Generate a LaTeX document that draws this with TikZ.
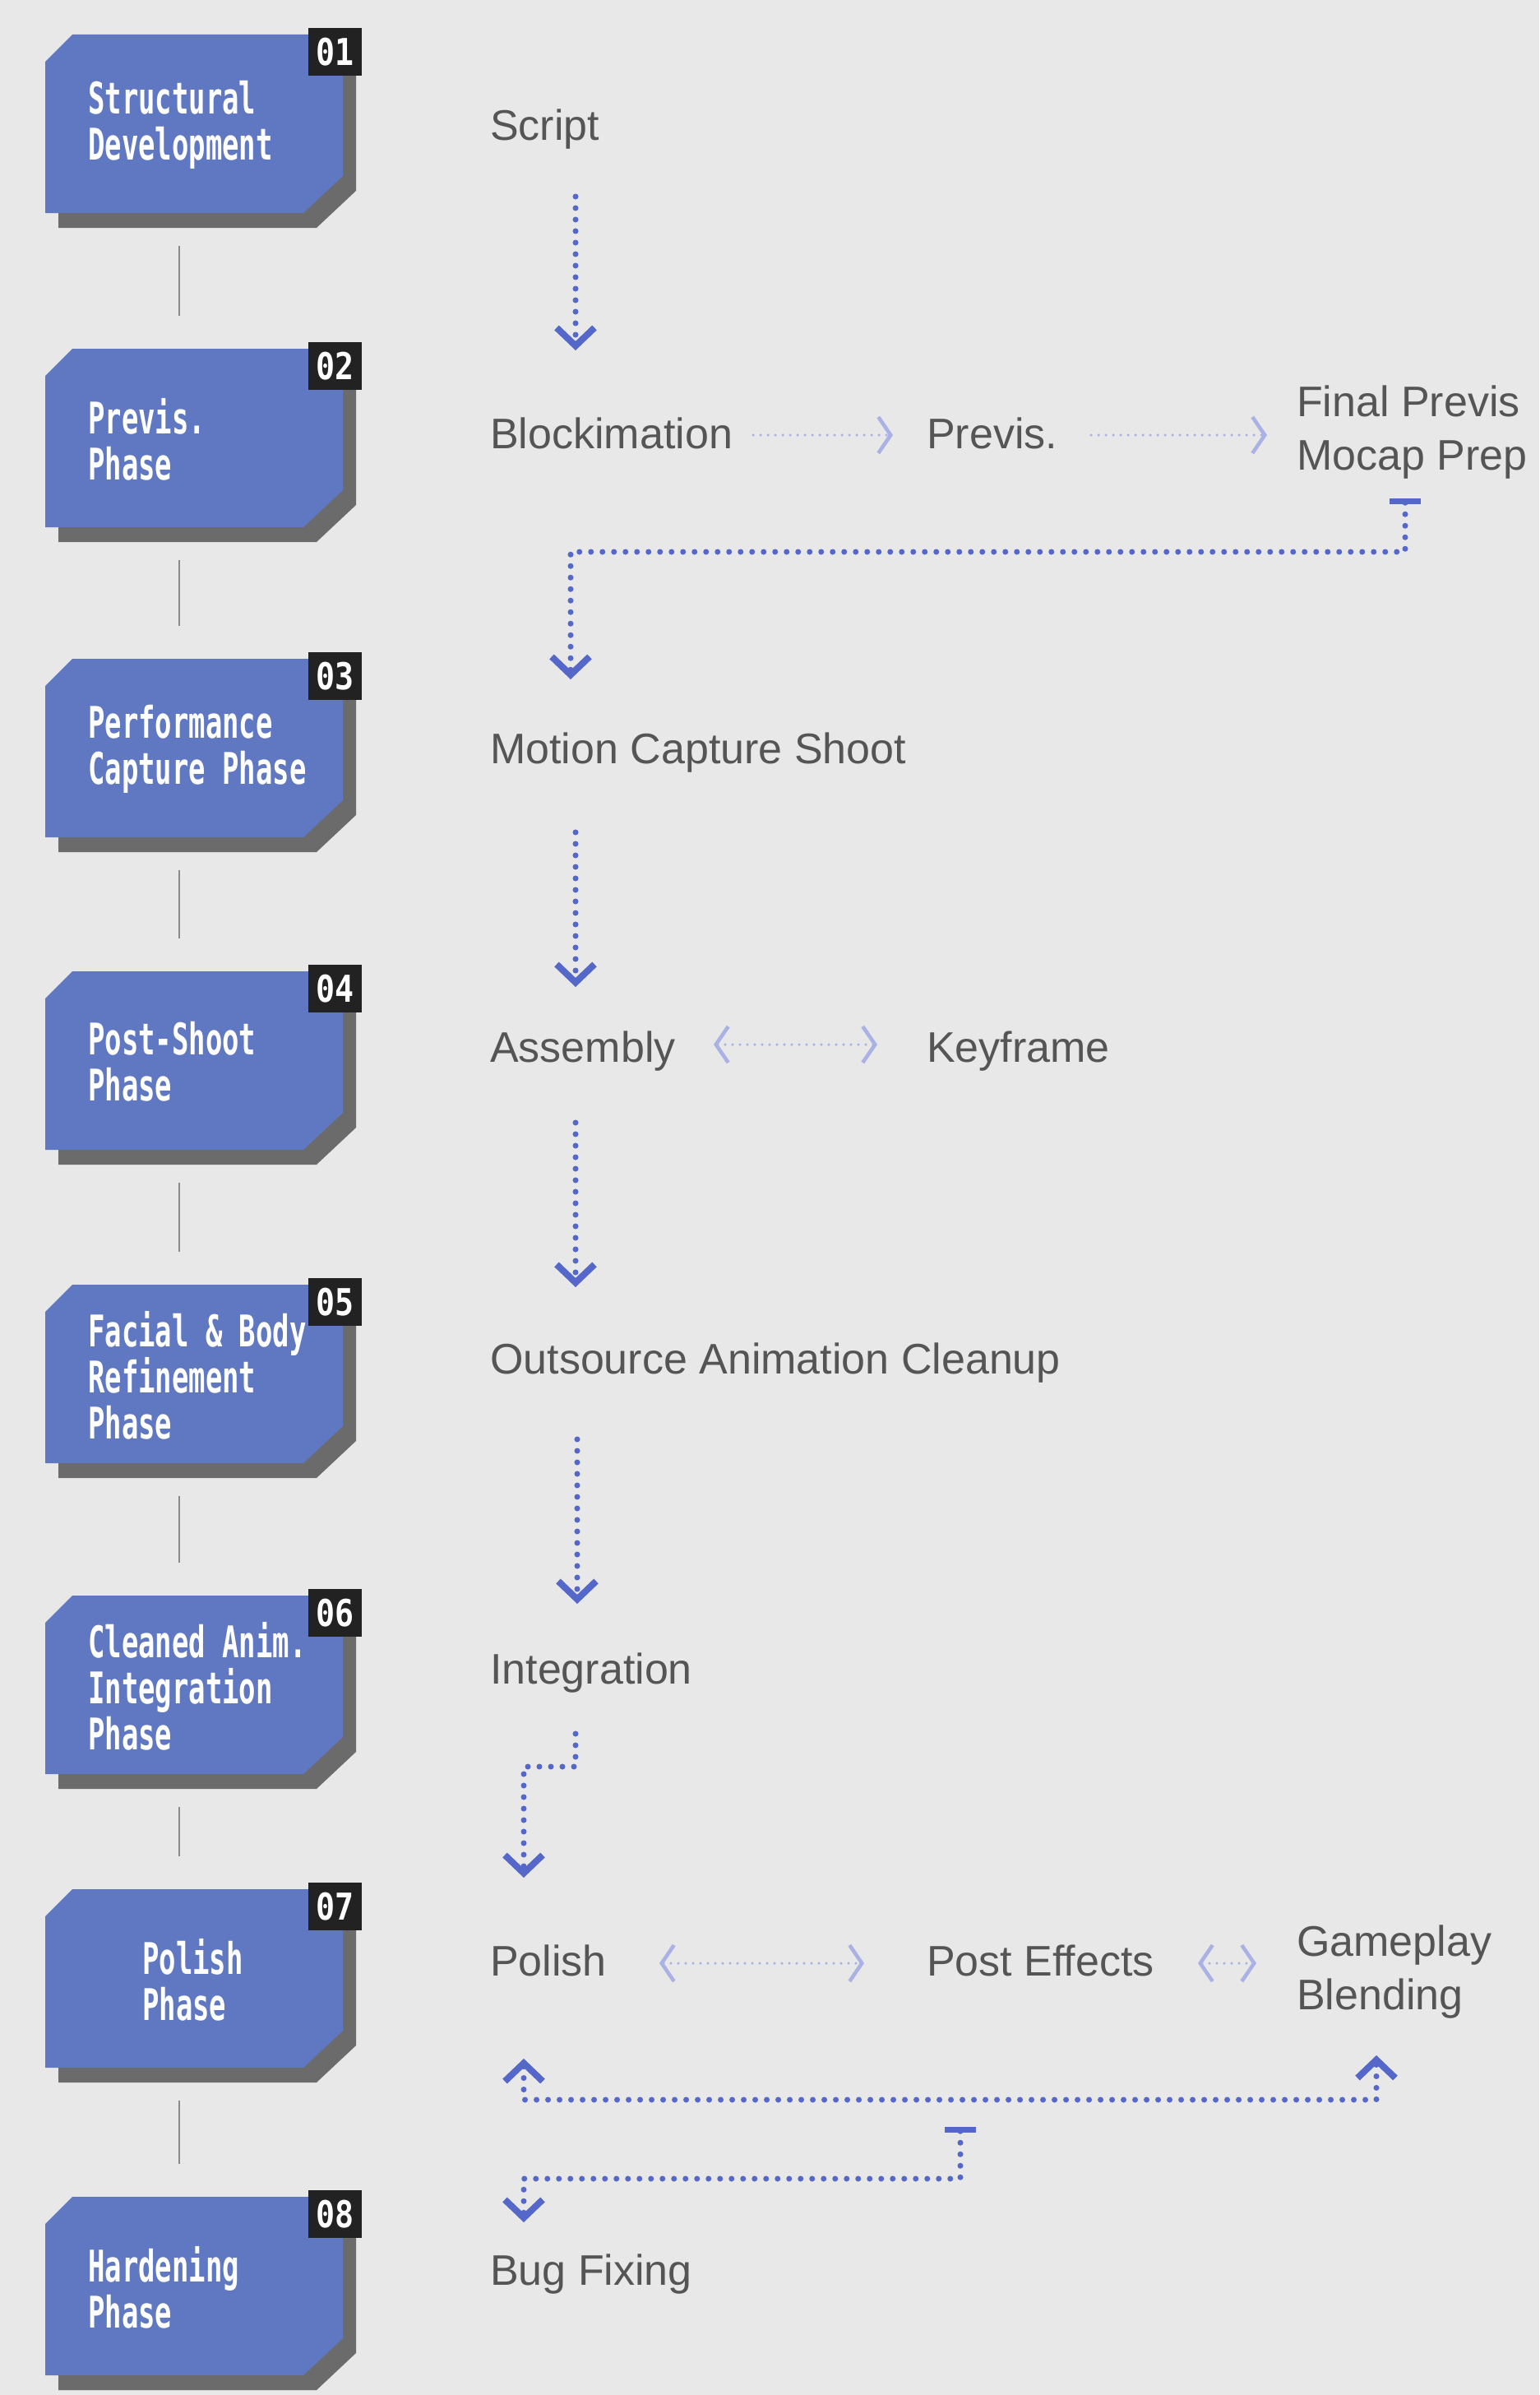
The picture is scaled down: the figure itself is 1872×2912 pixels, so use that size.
\documentclass[tikz,border=0pt]{standalone}
\usepackage{fontspec}
\setmainfont{Liberation Sans}
\newfontfamily\boxfont[FakeStretch=0.64]{DejaVu Sans Mono}
\newfontfamily\badgefont[FakeStretch=0.85]{DejaVu Sans Mono}
\usetikzlibrary{arrows.meta,calc}
\definecolor{bg}{HTML}{E7E8E7}
\definecolor{boxblue}{HTML}{6077C2}
\definecolor{shadowgray}{HTML}{6B6B6B}
\definecolor{badgeblack}{HTML}{222222}
\definecolor{txtgray}{HTML}{555555}
\definecolor{dkblue}{HTML}{5567C9}
\definecolor{ltblue}{HTML}{AAB1E4}
\definecolor{vgray}{HTML}{8A8A8A}
\newcommand\chamferfill[4]{\fill[#4] ($(#1.north west)+(#2,33+#3)$) -- ($(#1.north west)+(33+#2,#3)$) -- ($(#1.north east)+(#2,#3)$) -- ($(#1.south east)+(#2,-45+#3)$) -- ($(#1.south east)+(-48+#2,#3)$) -- ($(#1.south west)+(#2,#3)$) -- cycle;}
\newcommand\phasebox[5]{%
  \node[boxbase] (#1) at (236,#2+108.5) {};
  \chamferfill{#1}{16}{18}{shadowgray}
  \chamferfill{#1}{0}{0}{boxblue}
  \node[badge] (#1n) at (407.5,#2+21) {#3};
  \node[boxtext] (#1t) at (#4,#2+110) {#5};
}
\begin{document}
\begin{tikzpicture}[x=1pt,y=-1pt,
  boxbase/.style={minimum width=362pt,minimum height=217pt,inner sep=0pt,outer sep=0pt},
  badge/.style={fill=badgeblack,minimum width=65pt,minimum height=58pt,inner sep=0pt,text=white,font=\badgefont\bfseries\fontsize{45}{45}\selectfont},
  boxtext/.style={anchor=west,align=left,inner sep=0pt,text=white,font=\boxfont\bfseries\fontsize{53}{56}\selectfont},
  lbl/.style={anchor=base west,inner sep=0pt,text=txtgray,font=\fontsize{52}{65}\selectfont},
  lbl2/.style={anchor=north west,align=left,inner sep=0pt,text=txtgray,font=\fontsize{52}{65}\selectfont},
  vline/.style={draw=vgray,line width=2.5pt},
  darr/.style={draw=dkblue,line width=7pt,dash pattern=on 0pt off 14pt,line cap=round},
  dtip/.style={darr,-{Straight Barb[length=22pt,width=46pt,line width=8pt]}},
  dboth/.style={darr,{Straight Barb[length=22pt,width=46pt,line width=8pt]}-{Straight Barb[length=22pt,width=46pt,line width=8pt]}},
  dbar/.style={darr,{Bar[width=38pt,line width=7pt]}-{Straight Barb[length=22pt,width=46pt,line width=8pt]}},
  larr/.style={draw=ltblue,line width=3.5pt,dash pattern=on 0pt off 9pt,line cap=round,-{Straight Barb[length=15pt,width=44pt,line width=4.5pt]}},
  lboth/.style={draw=ltblue,line width=3.5pt,dash pattern=on 0pt off 9pt,line cap=round,{Straight Barb[length=15pt,width=44pt,line width=4.5pt]}-{Straight Barb[length=15pt,width=44pt,line width=4.5pt]}}
]
\fill[bg] (0,0) rectangle (1872,2912);
\useasboundingbox (0,0) rectangle (1872,2912);

% phase boxes
\phasebox{b1}{42}{01}{107}{Structural\\Development}
\phasebox{b2}{424}{02}{107}{Previs.\\Phase}
\phasebox{b3}{801}{03}{107}{Performance\\Capture Phase}
\phasebox{b4}{1181}{04}{107}{Post-Shoot\\Phase}
\phasebox{b5}{1562}{05}{107}{Facial \& Body\\Refinement\\Phase}
\phasebox{b6}{1940}{06}{107}{Cleaned Anim.\\Integration\\Phase}
\phasebox{b7}{2297}{07}{173}{Polish\\Phase}
\phasebox{b8}{2671}{08}{107}{Hardening\\Phase}

\foreach \a/\b in {b1/b2,b2/b3,b3/b4,b4/b5,b5/b6,b6/b7,b7/b8}
  \draw[vline] ([xshift=-18pt,yshift=-40pt]\a.south) -- ([xshift=-18pt,yshift=40pt]\b.north);

% step labels
\node[lbl] (script) at (596,170) {Script};
\node[lbl] (block) at (596,545) {Blockimation};
\node[lbl] (previs) at (1127,545) {Previs.};
\node[lbl2] (final) at (1577,469) {Final Previs\\Mocap Prep};
\node[lbl] (motion) at (596,928) {Motion Capture Shoot};
\node[lbl] (assembly) at (596,1291) {Assembly};
\node[lbl] (keyframe) at (1127,1291) {Keyframe};
\node[lbl] (outsource) at (596,1670) {Outsource Animation Cleanup};
\node[lbl] (integ) at (596,2047) {Integration};
\node[lbl] (polish) at (596,2402) {Polish};
\node[lbl] (post) at (1127,2402) {Post Effects};
\node[lbl2] (gameplay) at (1577,2341) {Gameplay\\Blending};
\node[lbl] (bug) at (596,2778) {Bug Fixing};

% dark dotted connectors
\draw[dtip] ([xshift=104pt,yshift=-69pt]script.base west) -- ([xshift=104pt,yshift=119pt]block.base west);
\draw[dbar] ([xshift=132pt,yshift=-137pt]final.north west) -- ++(0,65) -| ([xshift=98pt,yshift=102pt]motion.base west);
\draw[dtip] ([xshift=104pt,yshift=-84pt]motion.base west) -- ([xshift=104pt,yshift=91pt]assembly.base west);
\draw[dtip] ([xshift=104pt,yshift=-74pt]assembly.base west) -- ([xshift=104pt,yshift=105pt]outsource.base west);
\draw[dtip] ([xshift=106pt,yshift=-80pt]outsource.base west) -- ([xshift=106pt,yshift=97pt]integ.base west);
\draw[dtip] ([xshift=104pt,yshift=-61pt]integ.base west) -- ++(0,40) -| ([xshift=41pt,yshift=119pt]polish.base west);
\draw[dboth] ([xshift=41pt,yshift=-101pt]polish.base west) -- ++(0,50) -| ([xshift=97pt,yshift=-158pt]gameplay.north west);
\draw[dbar] ([xshift=41pt,yshift=-184pt]post.base west) -- ++(0,63) -| ([xshift=41pt,yshift=76pt]bug.base west);

% light connectors
\draw[larr] ([xshift=320pt,yshift=16pt]block.base west) -- ([xshift=-41pt,yshift=16pt]previs.base west);
\draw[larr] ([xshift=200pt,yshift=16pt]previs.base west) -- ([xshift=-36pt,yshift=-60pt]final.north west);
\draw[lboth] ([xshift=272pt,yshift=21pt]assembly.base west) -- ([xshift=-60pt,yshift=21pt]keyframe.base west);
\draw[lboth] ([xshift=206pt,yshift=15pt]polish.base west) -- ([xshift=-76pt,yshift=15pt]post.base west);
\draw[lboth] ([xshift=330pt,yshift=15pt]post.base west) -- ([xshift=-49pt,yshift=-46pt]gameplay.north west);
\end{tikzpicture}
\end{document}
